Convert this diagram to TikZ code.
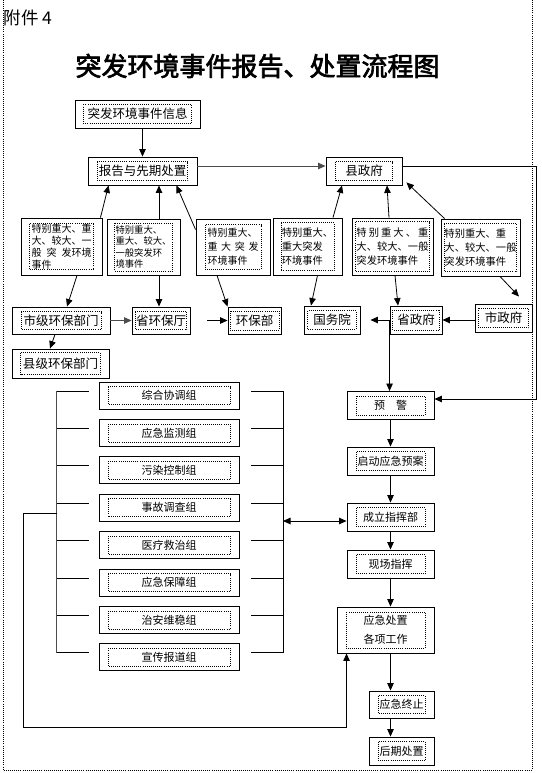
\documentclass[tikz,border=0pt]{standalone}
\usepackage{fontspec}
\setmainfont{Noto Sans CJK SC}[AutoFakeBold=2.5]
\usepackage{tikz}
\usetikzlibrary{arrows.meta,calc}
\newcommand{\spreadline}[2]{\makebox[#1][s]{#2}}

\begin{document}
\begin{tikzpicture}[
    x=1pt, y=-1pt, line width=0.8pt,
    inx/.store in=\boxinx, iny/.store in=\boxiny,
    inx=9pt, iny=4.5pt,
    dots/.style={line width=0.7pt,dash pattern=on 0.7pt off 1.4pt},
    sz/.style 2 args={minimum width=#1pt,minimum height=#2pt},
    box/.style={draw,line width=0.9pt,inner sep=0pt,align=center,
      font=\fontsize{12.5}{14}\selectfont,
      path picture={\draw[dots]
        ([xshift=\boxinx,yshift=-\boxiny]path picture bounding box.north west)
        rectangle
        ([xshift=-\boxinx,yshift=\boxiny]path picture bounding box.south east);}},
    event/.style={box,align=left,font=\fontsize{10}{12}\selectfont},
    group/.style={box,sz={140}{27},font=\fontsize{11}{13}\selectfont},
    step box/.style={box,sz={87}{28},font=\fontsize{11}{13}\selectfont},
    arr/.style={-{Triangle[length=7.5pt,width=6.5pt]}},
    dblarr/.style={{Triangle[length=7.5pt,width=6.5pt]}-{Triangle[length=7.5pt,width=6.5pt]}},
  ]
    \useasboundingbox (0,0) rectangle (541,773);

    % page frame
    \draw[dots] (3,0) -- (3,770) -- (532,770) -- (532,0);

    \node[anchor=west,font=\fontsize{17.5}{19}\selectfont] (annex) at (0,18) {附件 4};
    \node[font=\fontsize{26}{30}\selectfont\bfseries] (title) at (257.5,66)
      {突发环境事件报告、处置流程图};

    % reporting chain
    \node[box,sz={125}{28},inx=8.3pt] (info) at (137.5,114) {突发环境事件信息};
    \node[box,sz={109}{28},inx=9.3pt] (report) at (142.5,171) {报告与先期处置};
    \node[box,sz={76}{28},inx=9.5pt] (county) at (364,171) {县政府};

    \node[event,sz={81}{57},inx=8.5pt,iny=5.5pt] (evA) at (61.5,246.5)
      {特别重大、重\\大、较大、一\\\spreadline{60pt}{般 突 发环境}\\事件};
    \node[event,sz={73}{56},inx=7.7pt,iny=4pt,font=\fontsize{9.3}{11.5}\selectfont]
      (evB) at (143.5,247) {特别重大、\\重大、较大、\\一般突发环\\境事件};
    \node[event,sz={74}{56},iny=5.7pt,font=\fontsize{10}{14}\selectfont]
      (evC) at (233,247) {特别重大、\\\spreadline{51pt}{重 大 突 发}\\环境事件};
    \node[event,sz={69}{57},inx=8pt,font=\fontsize{10.3}{14}\selectfont]
      (evD) at (307.5,246.5) {特别重大、\\重大突发\\环境事件};
    \node[event,sz={81}{57},inx=3.3pt,iny=3.5pt,font=\fontsize{10.3}{14}\selectfont]
      (evE) at (392.5,246.5) {\spreadline{72pt}{特 别 重 大 、 重}\\大、较大、一般\\突发环境事件};
    \node[event,sz={79}{57},inx=3.3pt,iny=4.8pt,font=\fontsize{10.3}{14}\selectfont]
      (evF) at (480.5,247.5) {特别重大、重\\大、较大、一般\\突发环境事件};

    \node[box,sz={98}{27}] (cityEPB) at (61,320.5) {市级环保部门};
    \node[box,sz={58}{27},inx=3.3pt] (provEPD) at (161,320.5) {省环保厅};
    \node[box,sz={53}{27},inx=2pt,iny=4pt] (mep) at (254.5,320.5) {环保部};
    \node[box,sz={56}{28},inx=3.7pt,iny=4.8pt] (council) at (332,320) {国务院};
    \node[box,sz={52}{28},inx=2.5pt,iny=4pt] (prov) at (416,320) {省政府};
    \node[box,sz={57}{28},inx=3.3pt,iny=4.3pt] (city) at (503.5,318) {市政府};
    \node[box,sz={97}{29},inx=8.6pt,iny=3.8pt] (countyEPB) at (60.5,363.5) {县级环保部门};

    \draw[arr] (info.south -| report.north) -- (report.north);
    \draw[arr,black!70] ([yshift=5pt]report.east) -- ([yshift=5pt]county.west);

    \draw[arr] ([xshift=-2pt]evA.north east) -- ([xshift=21pt]report.south west);
    \coordinate (bUp) at ($(evB.north)+(15.5,0)$);
    \draw[arr] (bUp) -- (bUp |- report.south);
    \draw[arr] ([yshift=-11pt]evC.north west) -- ([xshift=-21pt]report.south east);
    \draw[arr] ([xshift=25.5pt]evD.north) -- ([xshift=-22pt]county.south);
    \draw[arr] ([xshift=-3.5pt]evE.north) -- ([xshift=23pt]county.south);
    \draw[arr] ([xshift=4pt]evF.north west) -- ([xshift=4pt,yshift=3pt]county.south east);

    \draw[arr] ([xshift=15.5pt]evA.south) -- ([xshift=6pt]cityEPB.north);
    \coordinate (bDn) at ($(evB.south)+(15.5,0)$);
    \draw[arr] (bDn) -- (bDn |- provEPD.north);
    \draw[arr] ([xshift=-16pt]evC.south) -- (mep.north west);
    \draw[arr] ([xshift=10pt]evD.south) -- ([xshift=-21pt]council.north);
    \draw[arr] ([xshift=2.5pt]evE.south) -- ([xshift=-18pt]prov.north);
    \coordinate (fTip) at ($(city.north)+(15.5,-7)$);
    \draw[arr] ($(evF.south)+(19.5,0)$) -- (fTip);

    \draw[arr] ([xshift=-6pt]cityEPB.south) -- ([xshift=-10.5pt]countyEPB.north);
    \draw[arr,black!70] (cityEPB.east) -- (provEPD.west);
    \draw[arr,shorten <=17pt] (provEPD.east) -- (mep.west);
    \draw[arr,shorten >=10pt] (prov.west) -- (council.east);
    \draw[arr] (city.west |- prov.east) -- (prov.east);

    % response chain
    \node[step box] (warn) at (390.5,405.5) {预\hspace{1em}警};
    \node[step box] (plan) at (390.5,461) {启动应急预案};
    \node[step box] (hq) at (390.5,517) {成立指挥部};
    \node[step box] (site) at (390.5,564) {现场指挥};
    \node[box,sz={97}{46},inx=9pt,iny=5pt,font=\fontsize{11}{19}\selectfont]
      (dispose) at (385.5,630) {应急处置\\各项工作};
    \node[step box,sz={65}{27}] (stop) at (401.5,704.5) {应急终止};
    \node[step box,sz={65}{28}] (after) at (401.5,751) {后期处置};

    \draw[arr] (prov.west) -- (prov.west |- warn.north);
    \coordinate (loopA) at (536,166);
    \coordinate (loopB) at (536,399);
    \draw[arr] ([yshift=5pt]county.east) -- (loopA) -- (loopB) -- (loopB -| warn.east);

    \draw[arr] (warn.south) -- (plan.north);
    \draw[arr] (plan.south) -- (hq.north);
    \draw[arr] (hq.south) -- (site.north);
    \draw[arr] (site.south) -- (site.south |- dispose.north);
    \draw[arr] (dispose.south -| site.south) -- (stop.north -| site.south);
    \draw[arr] (stop.south -| site.south) -- (after.north -| site.south);

    % working groups
    \foreach \t [count=\i] in {综合协调组,应急监测组,污染控制组,事故调查组,
        医疗救治组,应急保障组,治安维稳组,宣传报道组} {
      \node[group] (g\i) at (169,{395.5+37.4*(\i-1)}) {\t};
      \draw ([yshift=4.5pt]g\i.west) ++(-10,0) -- ++(-32,0);
      \draw ([yshift=4.5pt]g\i.east) ++(12,0) -- ++(32,0);
    }
    \coordinate (lTop) at ($(g1.west)+(-42,-4.5)$);
    \coordinate (lBot) at ($(g8.west)+(-42,-4.5)$);
    \coordinate (rTop) at ($(g1.east)+(44,-4.5)$);
    \coordinate (rBot) at ($(g8.east)+(44,-4.5)$);
    \draw[black!70] (lTop) -- (lBot);
    \draw (rTop) -- (rBot);

    \coordinate (rJoin) at (283,521);
    \draw[dblarr] (rJoin) -- (rJoin -| hq.west);

    \coordinate (lJoin) at (57,513);
    \coordinate (lOut) at (23,513);
    \coordinate (lDown) at (23,727);
    \draw[arr] (lJoin) -- (lOut) -- (lDown) -| ([xshift=10pt]dispose.south west);
  \end{tikzpicture}
\end{document}
